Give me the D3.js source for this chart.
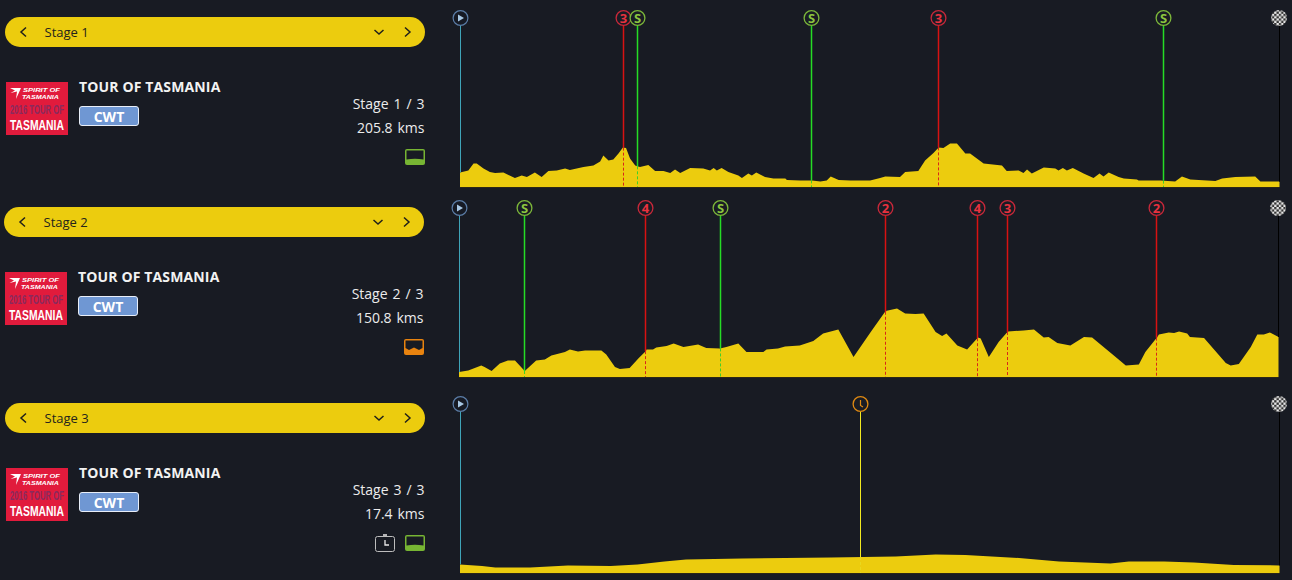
<!DOCTYPE html>
<html><head><meta charset="utf-8">
<script src="https://cdnjs.cloudflare.com/ajax/libs/d3/7.8.5/d3.min.js"></script>
<style>html,body{margin:0;padding:0;background:#181b23;overflow:hidden}svg{display:block}text{font-family:"Open Sans",sans-serif}</style>
</head><body><svg id="c" width="1292" height="580"></svg>
<script>
const stage1Km=[0,2.1,3.4,4.2,5.9,7.5,8.8,10.9,13.8,15.5,16.8,18.8,20.5,22.2,24.3,26.4,27.6,31,33.5,35.2,36,37.3,38.5,39.8,40.9,41.7,42.7,44,45.2,47.3,49,51.1,52.8,54,55.3,57.8,61.1,62.8,63.7,64.5,65.7,67.4,69.9,70.8,72.4,73.3,74.4,76.6,78.7,81.7,82.1,85.4,88.4,90.5,92.1,93.1,95.1,98,103,105.5,106.8,110.5,111.8,115.1,116.8,118.9,120.2,121.4,123.1,124.8,126.9,128.1,131.5,136.1,137.3,140.3,141.5,142.4,143.6,146.6,149.5,150.3,151.4,152.4,153.9,156.6,159.1,160.6,161.6,162.9,165.4,166.7,170,170.4,175.9,179.6,181.3,183.4,189.7,191.4,194.7,199.7,201,205.8];
const stage1Elev=[73,83,117,117,92,75,70,72,45,58,50,73,50,80,83,93,85,100,108,127,158,133,137,167,197,195,142,108,100,110,80,80,70,87,70,95,92,83,95,83,95,75,58,45,67,58,72,50,42,42,35,33,33,28,33,52,35,32,33,45,53,50,75,80,133,170,198,195,217,217,167,167,117,108,80,83,70,87,67,97,92,83,95,83,95,67,45,67,53,72,50,42,38,33,33,27,52,37,30,42,50,53,27,27];
const stage2Km=[0,1.7,4.1,4.7,6,7.5,9,10.3,12.1,14.2,15.8,17,19.5,20.4,21.9,23.2,26.2,27.1,28.7,29.6,31.4,33,34.2,34.5,35.7,36.3,38.2,39.5,41.3,44,45.5,48,49.2,51.4,52.9,56,56.6,58.7,60,62.7,65.2,67,69.8,72.6,75.7,78.5,80.6,82.1,84,85.5,87.7,88.9,89.7,91.7,93.5,95.5,96,97.5,99.3,101,103.9,105.8,107.6,108.5,110.1,112.5,115,116.5,120.5,122.7,125.1,126.3,128.5,128.8,130.6,131.6,132.5,134,134.5,137.1,141.1,142,143.5,145.7,146.9,148.1,149.2,150.8];
const stage2Elev=[25,32,58,50,30,67,83,83,30,82,88,107,125,138,128,133,133,112,50,40,45,92,125,138,137,148,155,168,150,162,145,142,150,168,125,125,138,142,153,158,180,217,238,100,222,330,342,318,315,318,225,205,217,158,138,197,192,100,175,228,233,237,197,200,170,158,200,197,108,57,62,125,200,212,223,220,227,217,200,195,70,58,65,150,212,212,223,200];
const stage3Km=[0,0.47,0.75,1.49,2.29,3.2,3.77,4.34,4.8,6,7.88,9.25,10.1,10.73,11.87,12.72,13.81,14.2,14.95,15.58,16.43,17.4];
const stage3Elev=[43,35,28,28,38,35,43,58,68,72,78,82,93,90,75,58,47,57,57,52,40,38];

const stageNames=["Stage 1","Stage 2","Stage 3"];
const stageCounts=["Stage 1 / 3","Stage 2 / 3","Stage 3 / 3"];
const stageDistances=[205.8,150.8,17.4];
const distanceLabels=["205.8 kms","150.8 kms","17.4 kms"];
const raceName="TOUR OF TASMANIA";
const raceClass="CWT";
const stage1Marks=[["3",41],["S",44.7],["S",88.2],["3",120.2],["S",176.6]];
const stage2Marks=[["S",12.1],["4",34.3],["S",48.1],["2",78.4],["4",95.4],["3",100.9],["2",128.4]];
const stage3Marks=[["T",8.5]];
const profileKinds=["flat","hilly","flat"];

const kms=[stage1Km,stage2Km,stage3Km], elevs=[stage1Elev,stage2Elev,stage3Elev], marks=[stage1Marks,stage2Marks,stage3Marks];
const offsets=[{dx:0,dy:0,x0:460,x1:1279.5,base:187},{dx:-1,dy:190,x0:459,x1:1278.5,base:377},{dx:0,dy:386,x0:460,x1:1279.5,base:573}];
const YEL="#eccc0e",BG="#181b23";
const svg=d3.select("#c");
svg.append("rect").attr("width",1292).attr("height",580).attr("fill",BG);
const defs=svg.append("defs");
const pat=defs.append("pattern").attr("id","chk").attr("width",4.6).attr("height",4.6).attr("patternUnits","userSpaceOnUse");
pat.append("rect").attr("width",4.6).attr("height",4.6).attr("fill","#e8e8e8");
pat.append("rect").attr("width",2.3).attr("height",2.3).attr("fill","#333");
pat.append("rect").attr("x",2.3).attr("y",2.3).attr("width",2.3).attr("height",2.3).attr("fill","#333");

function chevron(g,x,y,pts){g.append("path").attr("transform",`translate(${x},${y})`).attr("d",d3.line()(pts)).attr("fill","none").attr("stroke","#20201a").attr("stroke-width",1.5);}
const snap=v=>Math.floor(v)+.5;
const nar="'Liberation Sans Narrow','Liberation Sans',sans-serif";
function logoText(lg,str,px,py,size,width,fill,italic){
  const t=lg.append("text").attr("font-size",size).attr("font-weight",700).attr("fill",fill).style("font-family",nar).text(str);
  if(italic) t.attr("font-style","italic");
  const sx=width/t.node().getComputedTextLength();
  t.attr("transform",`translate(${px},${py}) scale(${sx},1)`);
}

stageNames.forEach((name,i)=>{
  const o=offsets[i];
  const g=svg.append("g").attr("transform",`translate(${o.dx},${o.dy})`);
  g.append("rect").attr("x",5).attr("y",17).attr("width",420).attr("height",30).attr("rx",15).attr("fill",YEL);
  chevron(g,23,32,[[3,-4.5],[-2,0],[3,4.5]]);
  chevron(g,379,32,[[-4.5,-2],[0,2],[4.5,-2]]);
  chevron(g,407,32,[[-2,-4.5],[3,0],[-2,4.5]]);
  g.append("text").attr("x",44.5).attr("y",37).attr("font-size",13).attr("fill","#24241c").text(name);

  // logo
  const lg=g.append("g").attr("transform","translate(6,82)");
  lg.append("rect").attr("width",62).attr("height",53).attr("fill","#e11b3c");
  lg.append("path").attr("d","M4 6 L15 6 L10 17 L11 9.5 L4.5 11 L9 8.5 Z").attr("fill","#fff");
  logoText(lg,"SPIRIT OF",17,10.3,6,37,"#fff",true);
  logoText(lg,"TASMANIA",16,17,6,37,"#fff",true);
  logoText(lg,"2016 TOUR OF",4,31.5,13,54,"#8a2a5e",false);
  logoText(lg,"TASMANIA",4,47.5,14,54,"#fff",false);

  g.append("text").attr("x",79).attr("y",92).attr("font-size",14).attr("font-weight",700).attr("letter-spacing",.14).attr("fill","#f2f2f2").text(raceName);
  g.append("rect").attr("x",79.5).attr("y",106.5).attr("width",59).attr("height",19).attr("rx",2.5).attr("fill","#6f97d3").attr("stroke","#e8eef8");
  g.append("text").attr("x",109).attr("y",121.5).attr("text-anchor","middle").attr("font-size",14).attr("font-weight",700).attr("fill","#fff").text(raceClass);
  g.append("text").attr("x",424.5).attr("y",109).attr("text-anchor","end").attr("font-size",14).attr("word-spacing",1.3).attr("fill","#ececec").text(stageCounts[i]);
  g.append("text").attr("x",424.5).attr("y",133).attr("text-anchor","end").attr("font-size",14).attr("word-spacing",1.3).attr("fill","#ececec").text(distanceLabels[i]);

  // profile icon
  const col=profileKinds[i]==="flat"?"#77b533":"#e8830f";
  const ic=g.append("g").attr("transform","translate(405,149)");
  ic.append("rect").attr("width",20).attr("height",16).attr("rx",2).attr("fill",col);
  ic.append("path").attr("d",profileKinds[i]==="flat"?"M1.5 1.5 H18.5 V10.5 Q10 9 1.5 10.5 Z":"M1.5 1.5 H18.5 V9 L15 11 L10 8.5 L5 11 L1.5 9 Z").attr("fill",BG);
  if(i===2){
    const t=g.append("g").attr("transform","translate(375,149)");
    t.append("rect").attr("x",.5).attr("y",1.5).attr("width",19).attr("height",15).attr("rx",2).attr("fill","none").attr("stroke","#bdbdbd");
    t.append("path").attr("d","M8 0 H12 M10 5 V10 H14").attr("fill","none").attr("stroke","#e8e8e8").attr("stroke-width",1.3);
  }

  // chart
  const x=d3.scaleLinear().domain([0,stageDistances[i]]).range([o.x0,o.x1]);
  const y=d3.scaleLinear().domain([0,800]).range([o.base,o.base-160]);
  const rows=kms[i].map((k,j)=>({k,e:elevs[i][j]}));
  const elevAt=d3.scaleLinear().domain(kms[i]).range(elevs[i]);
  const cy=18+o.dy;
  const ch=svg.append("g");
  ch.append("line").attr("x1",o.x0).attr("x2",o.x1).attr("y1",o.base+.5).attr("y2",o.base+.5).attr("stroke","#2b2616");
  ch.append("path").datum(rows).attr("d",d3.area().x(d=>x(d.k)).y0(y(0)).y1(d=>y(d.e))).attr("fill",YEL);

  const vert=(px,km,color,w)=>ch.append("line").attr("x1",px).attr("x2",px).attr("y1",cy+8).attr("y2",y(elevAt(km))).attr("stroke",color).attr("stroke-width",w);
  // start
  const sx=snap(x(0));
  vert(sx,0,"#3fa4b8",1);
  ch.append("circle").attr("cx",sx).attr("cy",cy).attr("r",7.4).attr("fill","#161a24").attr("stroke","#5c7ea8").attr("stroke-width",1.2);
  ch.append("path").attr("transform",`translate(${sx},${cy})`).attr("d","M-2.5 -3.5 L3.5 0 L-2.5 3.5 Z").attr("fill","#a8c8e4");
  // finish
  const fx=snap(x(stageDistances[i]));
  vert(fx,stageDistances[i],"#000",1);
  ch.append("circle").attr("cx",fx-.5).attr("cy",cy).attr("r",8).attr("fill","url(#chk)");

  // waypoints
  marks[i].forEach(([label,km])=>{
    const sprint=label==="S",tt=label==="T";
    const lineCol=sprint?"#25dc25":tt?"#f2ea20":"#d81212";
    const ringCol=sprint?"#7db83a":tt?"#e08a12":"#c9283a";
    const txtCol=sprint?"#8cc63f":"#e8323f";
    const mx=snap(x(km));
    vert(mx,km,lineCol,tt?1:1.5);
    ch.append("line").attr("x1",mx).attr("x2",mx).attr("y1",y(elevAt(km))).attr("y2",o.base).attr("stroke",tt?"#e8d820":(sprint?"#3ed02a":"#d8261a")).attr("stroke-width",1).attr("stroke-dasharray","3,2");
    ch.append("circle").attr("cx",mx).attr("cy",cy).attr("r",7.4).attr("fill","#191c24").attr("stroke",ringCol).attr("stroke-width",1.3);
    if(tt){
      ch.append("path").attr("transform",`translate(${mx},${cy})`).attr("d","M0 -4 V1.5 L2.5 3").attr("fill","none").attr("stroke","#e08a12").attr("stroke-width",1.2);
    } else {
      ch.append("text").attr("x",mx).attr("y",cy+4.5).attr("text-anchor","middle").attr("font-size",13).attr("font-weight",700).attr("fill",txtCol).text(label);
    }
  });
});
</script></body></html>
